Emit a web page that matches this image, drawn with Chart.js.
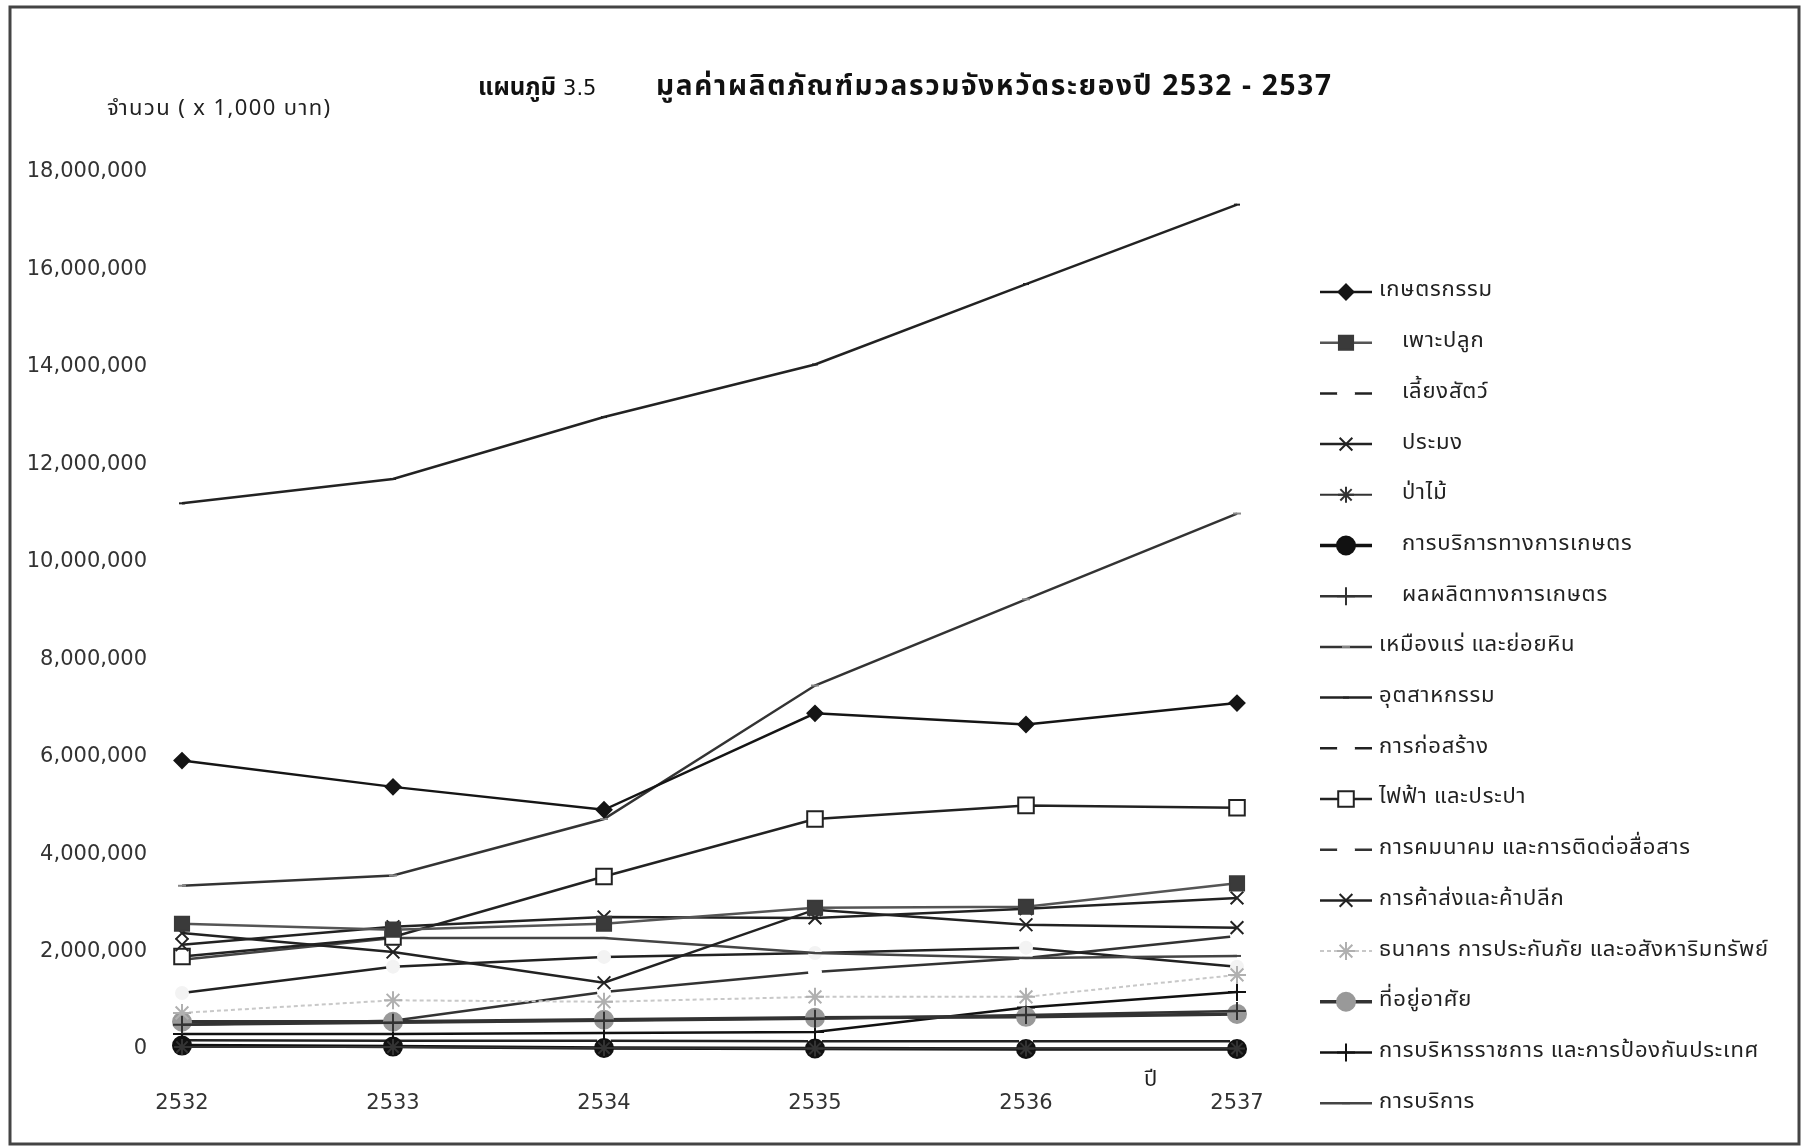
<!DOCTYPE html>
<html>
<head>
<meta charset="utf-8">
<script src="https://cdn.jsdelivr.net/npm/chart.js@4.4.0/dist/chart.umd.min.js"></script>
<style>
  html, body { margin: 0; padding: 0; background: #fff; }
  #wrap { position: relative; width: 1805px; height: 1148px; }
</style>
</head>
<body>
<div id="wrap"><canvas id="gppChart" width="1805" height="1148"></canvas></div>
<script>
// ---- data (x 1,000 baht) ----
const years = ["2532", "2533", "2534", "2535", "2536", "2537"];
const yTicks = [0, 2000000, 4000000, 6000000, 8000000, 10000000, 12000000, 14000000, 16000000, 18000000];

const agriculture   = [5920000, 5380000, 4910000, 6890000, 6660000, 7100000];
const crops         = [2570000, 2450000, 2570000, 2900000, 2920000, 3400000];
const livestock     = [180000, 170000, 170000, 160000, 160000, 160000];
const fishery       = [2140000, 2510000, 2710000, 2690000, 2880000, 3100000];
const forestry      = [40000, 40000, 20000, 10000, 10000, 10000];
const agriServices  = [70000, 50000, 20000, 10000, 0, 0];
const agriProducts  = [500000, 540000, 580000, 620000, 700000, 780000];
const mining        = [3350000, 3560000, 4720000, 7460000, 9230000, 10990000];
const industry      = [11200000, 11700000, 12970000, 14050000, 15700000, 17330000];
const construction  = [1150000, 1690000, 1890000, 1970000, 2080000, 1690000];
const utilities     = [1900000, 2300000, 3540000, 4720000, 5000000, 4950000];
const transport     = [500000, 580000, 1170000, 1580000, 1870000, 2320000];
const trade         = [2380000, 1990000, 1360000, 2860000, 2550000, 2490000];
const banking       = [740000, 1000000, 970000, 1070000, 1070000, 1520000];
const dwellings     = [560000, 560000, 600000, 640000, 660000, 720000];
const publicAdmin   = [310000, 310000, 330000, 350000, 850000, 1170000];
const services      = [1830000, 2280000, 2280000, 1970000, 1870000, 1910000];

// ---- series look (grey-scale print); "gap" series have white markers that cut their own line ----
const series = [
  { label: "เกษตรกรรม", data: agriculture, line: "#151515", w: 2.5, pt: "rectRot", r: 7.5, fill: "#151515", edge: "#151515", indent: 0 },
  { label: "เพาะปลูก", data: crops, line: "#555", w: 2.5, pt: "rect", r: 10, fill: "#3a3a3a", edge: "#3a3a3a", indent: 1 },
  { label: "เลี้ยงสัตว์", data: livestock, line: "#222", w: 2.5, pt: "circle", r: 6, fill: "#fff", edge: "#fff", indent: 1, gap: true },
  { label: "ประมง", data: fishery, line: "#222", w: 2.5, pt: "crossRot", r: 9, fill: "#222", edge: "#222", indent: 1 },
  { label: "ป่าไม้", data: forestry, line: "#333", w: 2, pt: "star", r: 8, fill: "#333", edge: "#333", indent: 1 },
  { label: "การบริการทางการเกษตร", data: agriServices, line: "#111", w: 3.5, pt: "circle", r: 9, fill: "#111", edge: "#111", indent: 1 },
  { label: "ผลผลิตทางการเกษตร", data: agriProducts, line: "#333", w: 2.5, pt: "cross", r: 9, fill: "#333", edge: "#333", indent: 1 },
  { label: "เหมืองแร่ และย่อยหิน", data: mining, line: "#333", w: 2.5, pt: "line", r: 4, fill: "#888", edge: "#888", indent: 0 },
  { label: "อุตสาหกรรม", data: industry, line: "#222", w: 2.5, pt: "line", r: 3, fill: "#222", edge: "#222", indent: 0 },
  { label: "การก่อสร้าง", data: construction, line: "#222", w: 2.5, pt: "circle", r: 6, fill: "#f3f3f3", edge: "#f3f3f3", indent: 0, gap: true },
  { label: "ไฟฟ้า และประปา", data: utilities, line: "#222", w: 2.5, pt: "rect", r: 11, fill: "#fff", edge: "#222", indent: 0 },
  { label: "การคมนาคม และการติดต่อสื่อสาร", data: transport, line: "#333", w: 2.5, pt: "circle", r: 6, fill: "#fff", edge: "#fff", indent: 0, gap: true },
  { label: "การค้าส่งและค้าปลีก", data: trade, line: "#222", w: 2.5, pt: "crossRot", r: 9, fill: "#222", edge: "#222", indent: 0 },
  { label: "ธนาคาร การประกันภัย และอสังหาริมทรัพย์", data: banking, line: "#c8c8c8", w: 2, pt: "star", r: 9, fill: "#aaa", edge: "#b0b0b0", indent: 0, dash: [4, 3] },
  { label: "ที่อยู่อาศัย", data: dwellings, line: "#333", w: 3.5, pt: "circle", r: 9, fill: "#999", edge: "#999", indent: 0 },
  { label: "การบริหารราชการ และการป้องกันประเทศ", data: publicAdmin, line: "#111", w: 2.5, pt: "cross", r: 9, fill: "#111", edge: "#111", indent: 0 },
  { label: "การบริการ", data: services, line: "#444", w: 2.5, pt: "line", r: 4, fill: "#444", edge: "#444", indent: 0 },
];

const THAI = '"Noto Sans Thai", Loma, Garuda, "Tlwg Typo", "DejaVu Sans", sans-serif';
const NUM = '"DejaVu Sans", sans-serif';

// frame, title, axis notes and the legend are drawn on top of the chart
const decor = {
  id: "decor",
  afterDraw(chart) {
    const ctx = chart.ctx;
    ctx.save();
    // outer frame
    ctx.strokeStyle = "#444";
    ctx.lineWidth = 3;
    ctx.strokeRect(10, 7, 1789, 1137);

    // title
    ctx.fillStyle = "#111";
    ctx.textBaseline = "alphabetic";
    ctx.textAlign = "left";
    ctx.letterSpacing = "0px";
    ctx.font = "bold 24px " + THAI;
    ctx.fillText("แผนภูมิ", 478, 95);
    const after = 478 + ctx.measureText("แผนภูมิ").width + 7;
    ctx.font = "21px " + NUM;
    ctx.fillText("3.5", after, 95);
    ctx.font = "bold 28px " + THAI;
    ctx.letterSpacing = "1.7px";
    ctx.fillText("มูลค่าผลิตภัณฑ์มวลรวมจังหวัดระยองปี 2532 - 2537", 656, 95);

    // unit and year notes
    ctx.font = "22px " + THAI;
    ctx.letterSpacing = "1.4px";
    ctx.fillStyle = "#222";
    ctx.fillText("จำนวน ( x 1,000 บาท)", 107, 115);
    ctx.letterSpacing = "0px";
    ctx.fillText("ปี", 1144, 1086);

    // legend
    const h = Chart.helpers;
    series.forEach((s, i) => {
      const y = 292 + i * 50.7;
      ctx.setLineDash(s.dash || []);
      ctx.strokeStyle = s.line;
      ctx.lineWidth = s.w;
      ctx.beginPath();
      ctx.moveTo(1320, y);
      ctx.lineTo(1372, y);
      ctx.stroke();
      ctx.setLineDash([]);
      ctx.fillStyle = s.gap ? "#fff" : s.fill;
      ctx.strokeStyle = s.gap ? "#fff" : s.edge;
      ctx.lineWidth = 2;
      h.drawPoint(ctx, { pointStyle: s.pt, rotation: 0, radius: s.gap ? 8 : s.r, borderWidth: 2 }, 1346, y);
      ctx.fillStyle = "#222";
      ctx.font = "22px " + THAI;
      ctx.letterSpacing = "0.8px";
      ctx.textBaseline = "middle";
      ctx.fillText(s.label, s.indent ? 1402 : 1379, y);
    });
    ctx.restore();
  },
};

new Chart(document.getElementById("gppChart"), {
  type: "line",
  data: {
    labels: years,
    datasets: series.map((s) => ({
      label: s.label,
      data: s.data,
      borderColor: s.line,
      borderWidth: s.w,
      borderDash: s.dash || [],
      tension: 0,
      clip: false,
      order: s.gap ? 5 : 0,
      pointStyle: s.pt,
      pointRadius: s.r,
      pointBackgroundColor: s.fill,
      pointBorderColor: s.edge,
      pointBorderWidth: 2,
    })),
  },
  options: {
    responsive: false,
    animation: false,
    devicePixelRatio: 1,
    layout: { padding: { top: 172, right: 568, bottom: 0, left: 0 } },
    plugins: { legend: { display: false }, tooltip: { enabled: false } },
    scales: {
      x: {
        offset: false,
        grid: { display: false },
        border: { display: false },
        ticks: { padding: 34, color: "#333", font: { family: NUM, size: 21 } },
        afterFit: (s) => { s.height = 99; },
      },
      y: {
        min: 0,
        max: 18000000,
        afterBuildTicks: (s) => { s.ticks = yTicks.map((v) => ({ value: v })); },
        grid: { display: false },
        border: { display: false },
        ticks: {
          padding: 27,
          color: "#333",
          font: { family: NUM, size: 21 },
          callback: (v) => Number(v).toLocaleString("en-US"),
        },
        afterFit: (s) => { s.width = 182; },
      },
    },
  },
  plugins: [decor],
});
</script>
</body>
</html>
